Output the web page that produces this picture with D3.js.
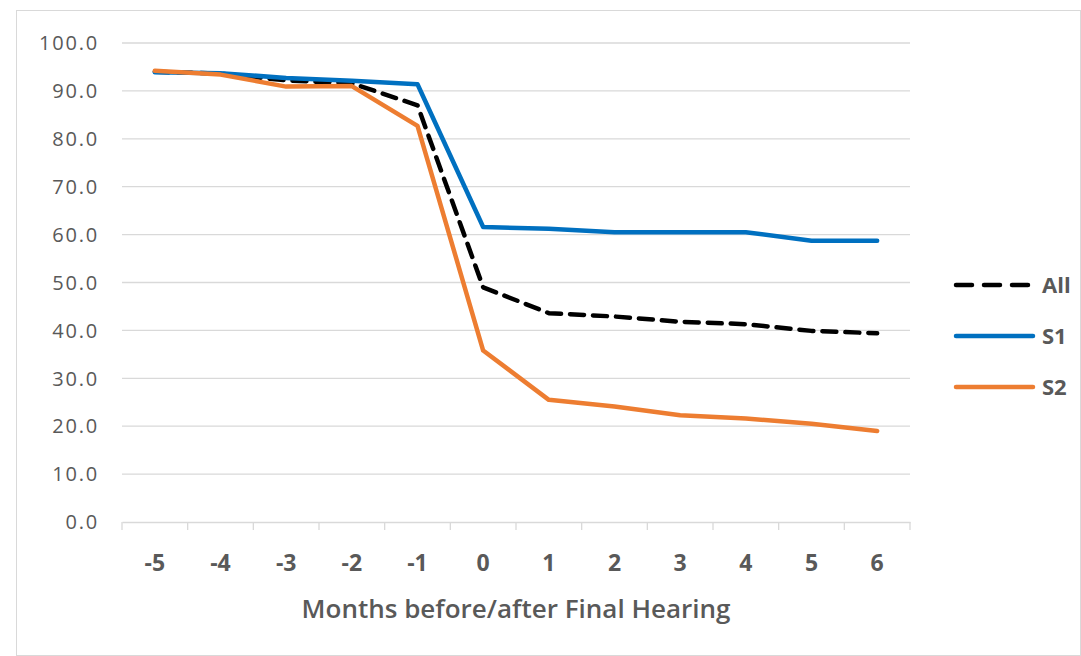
<!DOCTYPE html>
<html><head><meta charset="utf-8">
<script src="https://cdn.jsdelivr.net/npm/d3@7"></script>
<style>body{margin:0;background:#fff}svg{display:block}text{font-family:"Open Sans",Lato,sans-serif}</style>
</head><body>
<script>
const categories = ["-5","-4","-3","-2","-1","0","1","2","3","4","5","6"];
const allValues = [94.0,93.6,92.2,91.6,87.0,49.0,43.6,42.9,41.8,41.3,39.9,39.4];
const s1Values  = [93.9,93.7,92.7,92.1,91.4,61.6,61.2,60.5,60.5,60.5,58.7,58.7];
const s2Values  = [94.2,93.4,90.9,91.0,82.7,35.8,25.5,24.1,22.3,21.6,20.5,19.0];
const yTicks = [0,10,20,30,40,50,60,70,80,90,100];
const seriesNames = ["All","S1","S2"];

const W=1081,H=656;
const svg=d3.select("body").append("svg").attr("width",W).attr("height",H);
svg.append("rect").attr("x",16.5).attr("y",10.5).attr("width",W-17).attr("height",H-11)
  .attr("fill","#fff").attr("stroke","#d9d9d9");

const x=d3.scaleBand().domain(categories).range([122,910]);
const y=d3.scaleLinear().domain([0,100]).range([522,43]);

// gridlines
svg.append("g").selectAll("line").data(yTicks.filter(d=>d>0)).join("line")
  .attr("x1",122).attr("x2",910).attr("y1",d=>y(d)).attr("y2",d=>y(d))
  .attr("stroke","#d9d9d9").attr("stroke-width",1.3);

// y labels
svg.append("g").selectAll("text").data(yTicks).join("text")
  .attr("x",99).attr("y",d=>y(d)).attr("dy","0.36em").attr("text-anchor","end")
  .attr("font-size",20).attr("letter-spacing","1.8px").attr("fill","#595959").text(d=>d.toFixed(1));

// x axis
const xa=svg.append("g").attr("transform","translate(0,522)")
  .call(d3.axisBottom(x).tickSize(0).tickPadding(30));
xa.select(".domain").attr("stroke","#d9d9d9").attr("stroke-width",1.3);
xa.selectAll(".tick text").attr("y",49).attr("dy",null).attr("font-size",23).attr("fill","#595959").attr("font-weight","bold")
  .style("font-family","'Open Sans',Lato,sans-serif");
const bounds=categories.map(c=>x(c)).concat([x.range()[1]]);
xa.selectAll(".tk").data(bounds).join("line").attr("class","tk")
  .attr("x1",d=>d).attr("x2",d=>d).attr("y1",0).attr("y2",8)
  .attr("stroke","#d9d9d9").attr("stroke-width",1.3);

svg.append("text").attr("x",516).attr("y",618).attr("text-anchor","middle")
  .attr("font-size",26).attr("fill","#595959").attr("font-weight","600").text("Months before/after Final Hearing");

const line=d3.line().x((d,i)=>x(categories[i])+x.bandwidth()/2).y(d=>y(d));
const styles=[
  {vals:allValues,color:"#000",dash:"14,9"},
  {vals:s1Values,color:"#0070c0",dash:null},
  {vals:s2Values,color:"#ed7d31",dash:null}
];
styles.forEach(s=>{
  svg.append("path").datum(s.vals).attr("d",line).attr("fill","none")
    .attr("stroke",s.color).attr("stroke-width",4.5).attr("stroke-linecap","round")
    .attr("stroke-linejoin","round").attr("stroke-dasharray",s.dash);
});

// legend
const ly=[285,336,387];
seriesNames.forEach((n,i)=>{
  const s=styles[i];
  svg.append("line").attr("x1",956).attr("x2",1033).attr("y1",ly[i]).attr("y2",ly[i])
    .attr("stroke",s.color).attr("stroke-width",4.5).attr("stroke-linecap","round")
    .attr("stroke-dasharray",s.dash?"16,12":null);
  svg.append("text").attr("x",1042).attr("y",ly[i]).attr("dy","0.36em")
    .attr("font-size",22).attr("font-weight","bold").attr("fill","#595959").text(n);
});
</script>
</body></html>
